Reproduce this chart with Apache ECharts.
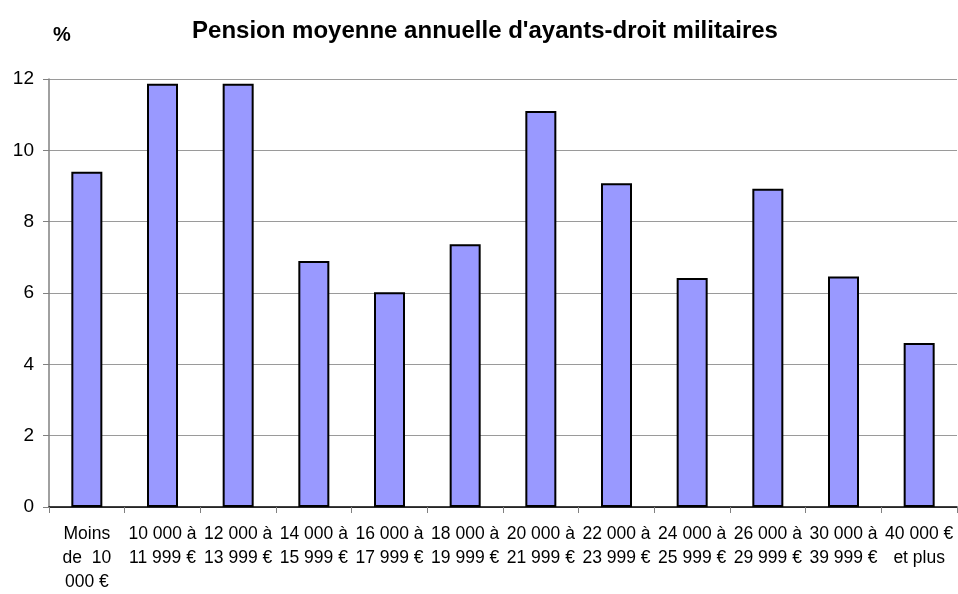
<!DOCTYPE html>
<html>
<head>
<meta charset="utf-8">
<script src="https://cdn.jsdelivr.net/npm/echarts@6/dist/echarts.min.js"></script>
<style>html,body{margin:0;padding:0;background:#fff;}#c{width:958px;height:594px;}</style>
</head>
<body>
<div id="c"></div>
<script>
const categories = [
  "Moins\nde  10\n000 €",
  "10 000 à\n11 999 €",
  "12 000 à\n13 999 €",
  "14 000 à\n15 999 €",
  "16 000 à\n17 999 €",
  "18 000 à\n19 999 €",
  "20 000 à\n21 999 €",
  "22 000 à\n23 999 €",
  "24 000 à\n25 999 €",
  "26 000 à\n29 999 €",
  "30 000 à\n39 999 €",
  "40 000 €\net plus"
];
const values = [9.4, 11.87, 11.87, 6.9, 6.02, 7.37, 11.1, 9.08, 6.42, 8.92, 6.46, 4.6];
const titleText = "Pension moyenne annuelle d'ayants-droit militaires";
const yUnit = "%";

const chart = echarts.init(document.getElementById('c'), null, {renderer: 'canvas'});
chart.setOption({
  animation: false,
  backgroundColor: '#ffffff',
  textStyle: {fontFamily: 'Liberation Sans, Arial, sans-serif'},
  title: [{
    text: titleText,
    left: 480, top: 14, textAlign: 'center',
    textStyle: {fontFamily: 'Liberation Sans', fontWeight: 'bold', fontSize: 24, color: '#000'}
  }, {
    text: yUnit,
    left: 57, top: 20, textAlign: 'center',
    textStyle: {fontFamily: 'Liberation Sans', fontWeight: 'bold', fontSize: 20, color: '#000'}
  }],
  grid: {left: 49, right: 1, top: 79, bottom: 82, containLabel: false},
  xAxis: {
    type: 'category',
    data: categories,
    axisLine: {show: true, lineStyle: {color: '#000', width: 1.5}},
    axisTick: {show: true, length: 6, lineStyle: {color: '#808080'}},
    axisLabel: {interval: 0, color: '#000', fontSize: 17.5, lineHeight: 24, margin: 15, fontFamily: 'Liberation Sans'},
    splitLine: {show: false}
  },
  yAxis: {
    type: 'value',
    min: 0, max: 12, interval: 2,
    axisLine: {show: true, lineStyle: {color: '#808080', width: 1.5}},
    axisTick: {show: true, length: 6, lineStyle: {color: '#808080'}},
    axisLabel: {color: '#000', fontSize: 19, margin: 15, fontFamily: 'Liberation Sans'},
    splitLine: {show: true, lineStyle: {color: '#9a9a9a', width: 1}}
  },
  series: [{
    type: 'bar',
    data: values,
    barWidth: 31,
    itemStyle: {color: '#9999ff', borderColor: '#000', borderWidth: 2}
  }]
});
</script>
</body>
</html>
